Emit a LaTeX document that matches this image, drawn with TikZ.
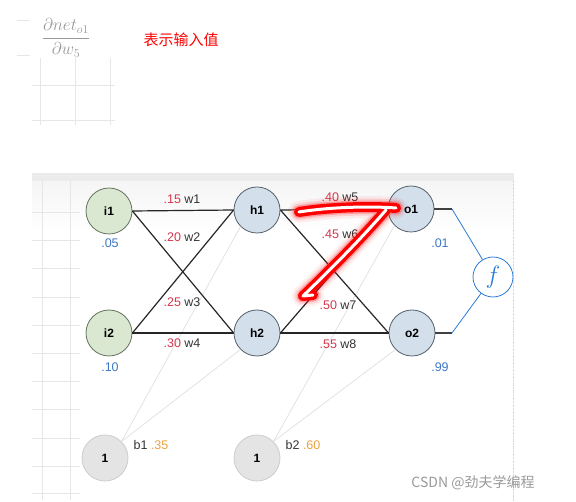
\documentclass[tikz,border=0pt]{standalone}
\usepackage{fontspec}
\setmainfont{Liberation Sans}
\setsansfont{Liberation Sans}
\newfontfamily\cjk{Noto Sans CJK SC}
\usepackage{tikz}
\usetikzlibrary{positioning}
\definecolor{inpfill}{HTML}{DAE8D1}
\definecolor{inpdraw}{HTML}{66735F}
\definecolor{hidfill}{HTML}{D3E0EC}
\definecolor{hiddraw}{HTML}{56616C}
\definecolor{biasfill}{HTML}{E4E4E4}
\definecolor{biasdraw}{HTML}{CDCDCD}
\definecolor{wred}{HTML}{D2364C}
\definecolor{vblue}{HTML}{3C77C4}
\definecolor{borange}{HTML}{E9A140}
\definecolor{fblue}{HTML}{2A7BD8}
\definecolor{gridgray}{HTML}{E6E6E6}

\begin{document}
\begin{tikzpicture}[x=1pt, y=-1pt,
  neuron/.style={circle, thick, minimum size=46pt, inner sep=0pt,
    font=\fontsize{12}{14}\selectfont\bfseries},
  inp/.style={neuron, fill=inpfill, draw=inpdraw},
  hid/.style={neuron, fill=hidfill, draw=hiddraw},
  bias/.style={neuron, fill=biasfill, draw=biasdraw},
  wlabel/.style={font=\fontsize{12.5}{14}\selectfont, text=black!80, inner sep=1pt},
  vlabel/.style={font=\fontsize{12.5}{14}\selectfont, text=vblue, inner sep=1pt},
  link/.style={line width=1.2pt, black!85},
  blink/.style={gray!25, line width=0.7pt},
  grid/.style={gridgray, line width=0.6pt},
]
\useasboundingbox (0,0) rectangle (576,502);

% top left corner (formula)
\draw[grid] (17,20) -- (30,20) (17,55) -- (30,55);
\draw[grid] (32,85) -- (115,85) (32,120) -- (115,120);
\draw[grid] (40,58) -- (40,125) (75,58) -- (75,125) (110,58) -- (110,125);
\node[text=gray!80, font=\fontsize{17}{19}\selectfont] (frac) at (66,38)
  {$\displaystyle\frac{\partial net_{o1}}{\partial w_5}$};
\node[text=red, font=\cjk\fontsize{15}{17}\selectfont] (note) at (181,40) {表示输入值};

% screenshot frame
\shade[top color=gray!8, bottom color=white] (32,181) rectangle (514,232);
\fill[gray!16] (32,173) rectangle (514,181);
\foreach \gy in {212,240,268,297,325,353,381,409,438,466,493}
  \draw[grid] (32,\gy) -- (80,\gy);
\draw[grid] (42,181) -- (42,500) (70,181) -- (70,500);
\draw[gray!30, densely dotted] (513,181) -- (513,502);

% neurons
\node[inp] (i1) at (109,211) {i1};
\node[inp] (i2) at (109,333) {i2};
\node[hid] (h1) at (257,210) {h1};
\node[hid] (h2) at (257,333) {h2};
\node[hid] (o1) at (411,209) {o1};
\node[hid] (o2) at (412,333) {o2};
\node[bias] (b1) at (105,458) {1};
\node[bias] (b2) at (257,458) {1};
\node[circle, draw=fblue, thick, minimum size=40pt, inner sep=0pt,
  text=fblue, font=\fontsize{27}{29}\selectfont] (f) at (493,277) {$f$};
\coordinate (c1) at (452,209);
\coordinate (c2) at (452,333);

% bias connections
\draw[blink] (b1.north east) -- (h1.south west);
\draw[blink] (b1.north east) -- (h2.south west);
\draw[blink] (b2.north east) -- (o1.south west);
\draw[blink] (b2.north east) -- (o2.south west);

% weights
\draw[link] (i1.east) -- (h1.west);
\draw[link] (i1.east) -- (h2.west);
\draw[link] (i2.east) -- (h1.west);
\draw[link] (i2.east) -- (h2.west);
\draw[link] (h1.east) -- (o1.west);
\draw[link] (h1.east) -- (o2.west);
\draw[link] (h2.east) -- (o1.west);
\draw[link] (h2.east) -- (o2.west);
\draw[line width=1.2pt, black!75] (o1.east) -- (c1);
\draw[line width=1.2pt, black!75] (o2.east) -- (c2);
\draw[fblue, thick] (c1) -- (f);
\draw[fblue, thick] (c2) -- (f);

% labels
\node[wlabel] (lw1) at (182,199) {\textcolor{wred}{.15} w1};
\node[wlabel] (lw2) at (182,237) {\textcolor{wred}{.20} w2};
\node[wlabel] (lw3) at (182,302) {\textcolor{wred}{.25} w3};
\node[wlabel] (lw4) at (182,343) {\textcolor{wred}{.30} w4};
\node[wlabel] (lw5) at (340,197) {\textcolor{wred}{.40} w5};
\node[wlabel] (lw6) at (340,234) {\textcolor{wred}{.45} w6};
\node[wlabel] (lw7) at (338,305) {\textcolor{wred}{.50} w7};
\node[wlabel] (lw8) at (338,344) {\textcolor{wred}{.55} w8};
\node[vlabel] (vi1) at (110,243) {.05};
\node[vlabel] (vi2) at (110,367) {.10};
\node[vlabel] (vo1) at (440,243) {.01};
\node[vlabel] (vo2) at (440,367) {.99};
\node[wlabel] (lb1) at (151,445) {b1 \textcolor{borange}{.35}};
\node[wlabel] (lb2) at (303,445) {b2 \textcolor{borange}{.60}};

% hand-drawn mark
\foreach \w/\o in {22/0.06,17/0.12,13/0.25}
  \draw[red, line width=\w pt, opacity=\o, line cap=round, line join=round]
    (299,212) .. controls (330,207) and (370,206) .. (396,208)
    (386,210) .. controls (360,240) and (330,270) .. (303,296) -- (313,295);
\draw[red, line width=10pt, line cap=round, line join=round]
  (299,212) .. controls (330,207) and (370,206) .. (396,208)
  (386,210) .. controls (360,240) and (330,270) .. (303,296) -- (313,295);
\draw[white, line width=3pt, line cap=round, line join=round]
  (299,212) .. controls (330,207) and (370,206) .. (396,208)
  (386,210) .. controls (360,240) and (330,270) .. (303,296) -- (313,295);

% watermark
\node[text=gray!80, font=\cjk\fontsize{14}{16}\selectfont] (mark) at (473,483)
  {CSDN @劲夫学编程};
\end{tikzpicture}
\end{document}
